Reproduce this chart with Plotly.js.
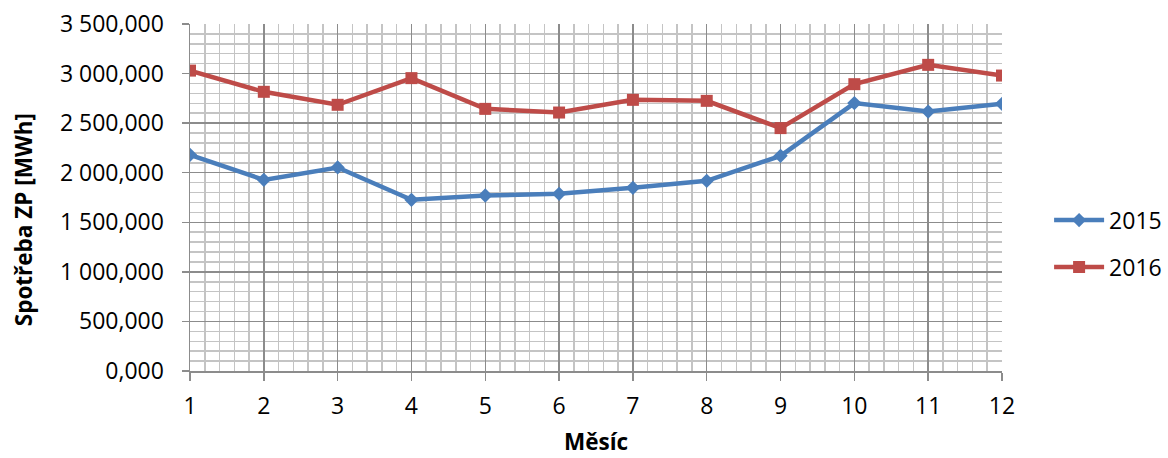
<!DOCTYPE html>
<html>
<head>
<meta charset="utf-8">
<script src="https://cdn.plot.ly/plotly-3.0.1.min.js"></script>
<style>
  html, body { margin: 0; padding: 0; background: #fff; }
  #chart { width: 1168px; height: 458px; }
</style>
</head>
<body>
<div id="chart"></div>
<script>
// Měsíční spotřeba zemního plynu [MWh]
const months = [1, 2, 3, 4, 5, 6, 7, 8, 9, 10, 11, 12];
const spotreba2015 = [2180000, 1928000, 2053000, 1727000, 1770000, 1787000, 1848000, 1918000, 2170000, 2702000, 2617000, 2695000];
const spotreba2016 = [3030000, 2816000, 2685000, 2954000, 2644000, 2607000, 2735000, 2725000, 2450000, 2893000, 3088000, 2980000];

const yTickVals = [0, 500000, 1000000, 1500000, 2000000, 2500000, 3000000, 3500000];
const yTickText = ['0,000', '500,000', '1 000,000', '1 500,000', '2 000,000', '2 500,000', '3 000,000', '3 500,000'];

const FONT = 'Open Sans, Liberation Sans, sans-serif';

const traces = [
  {
    x: months, y: spotreba2015, name: '2015', type: 'scatter', mode: 'lines+markers',
    line: { color: '#4a7ebb', width: 4.5 },
    marker: { symbol: 'diamond', size: 11, color: '#4a7ebb' },
    legendgroup: 'a'
  },
  {
    x: months, y: spotreba2016, name: '2016', type: 'scatter', mode: 'lines+markers',
    line: { color: '#be4b48', width: 4.5 },
    marker: { symbol: 'square', size: 12, color: '#be4b48' },
    legendgroup: 'b'
  }
];

const layout = {
  width: 1168, height: 458,
  margin: { l: 190, r: 166, t: 24, b: 87, autoexpand: false },
  paper_bgcolor: '#ffffff', plot_bgcolor: '#ffffff',
  font: { family: FONT, size: 23, color: '#000000' },
  showlegend: true,
  legend: {
    x: 1.058, xanchor: 'left', y: 0.367, yanchor: 'middle',
    font: { family: FONT, size: 23, color: '#000000' },
    itemwidth: 50,
    tracegroupgap: 14, bgcolor: 'rgba(0,0,0,0)'
  },
  xaxis: {
    range: [1, 12], tickmode: 'array', tickvals: months,
    showgrid: true, gridcolor: '#8c8c8c', gridwidth: 1.5,
    minor: { dtick: 0.2, showgrid: true, gridcolor: '#c4c4c4', gridwidth: 1.5 },
    showline: true, linecolor: '#8c8c8c', linewidth: 1.5,
    ticks: 'outside', ticklen: 8, tickcolor: '#8c8c8c', tickwidth: 1.5,
    ticklabelstandoff: 6,
    tickfont: { family: FONT, size: 23, color: '#000000' },
    zeroline: false, fixedrange: true
  },
  yaxis: {
    range: [0, 3500000], tickmode: 'array', tickvals: yTickVals, ticktext: yTickText,
    showgrid: true, gridcolor: '#8c8c8c', gridwidth: 1.5,
    minor: { dtick: 100000, showgrid: true, gridcolor: '#c4c4c4', gridwidth: 1.5 },
    showline: true, linecolor: '#8c8c8c', linewidth: 1.5,
    ticks: 'outside', ticklen: 7, tickcolor: '#8c8c8c', tickwidth: 1.5,
    ticklabelstandoff: 13,
    tickfont: { family: FONT, size: 23, color: '#000000' },
    zeroline: false, fixedrange: true
  },
  annotations: [
    {
      text: '<b>Spotřeba ZP [MWh]</b>', xref: 'paper', yref: 'paper',
      x: -0.205, y: 0.436, xanchor: 'center', yanchor: 'middle', textangle: -90,
      showarrow: false, font: { family: FONT, size: 22.5, color: '#000000' }
    },
    {
      text: '<b>Měsíc</b>', xref: 'paper', yref: 'paper',
      x: 0.5, y: -0.2035, xanchor: 'center', yanchor: 'middle',
      showarrow: false, borderpad: 0, font: { family: FONT, size: 22.5, color: '#000000' }
    }
  ]
};

Plotly.newPlot('chart', traces, layout, { staticPlot: true, displayModeBar: false });
</script>
</body>
</html>
